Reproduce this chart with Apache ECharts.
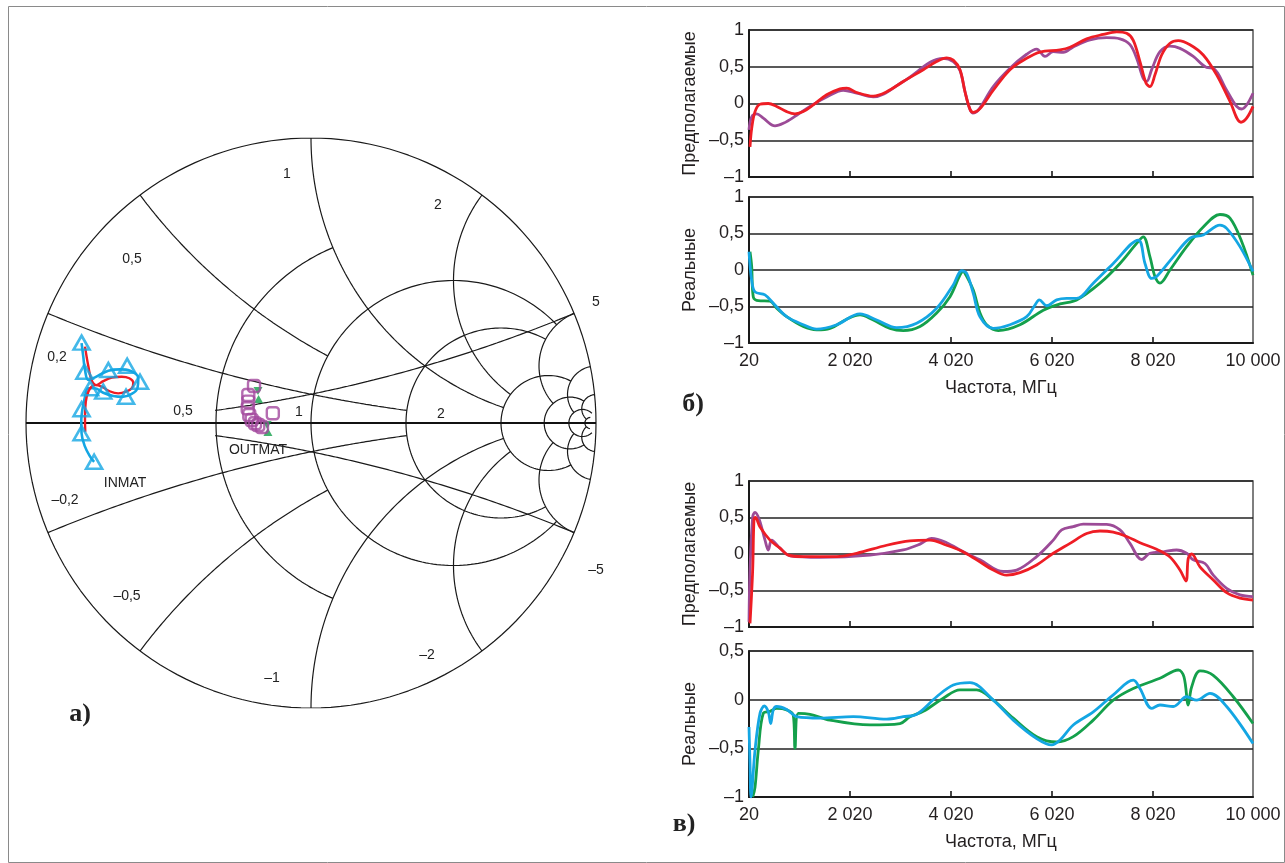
<!DOCTYPE html>
<html><head><meta charset="utf-8">
<script src="https://cdn.jsdelivr.net/npm/echarts@6/dist/echarts.min.js"></script>
<style>html,body{margin:0;padding:0;background:#fff}#c{width:1285px;height:863px}</style>
</head><body><div id="c"></div>
<script>
// ---------- DATA ----------
const freqTicks = [20, 2020, 4020, 6020, 8020, 10000];
const freqMinor = [2020, 4020, 6020, 8020];

// б) predicted (top)
const predB_purple = [[20,-0.36],[73,-0.18],[172,-0.14],[303,-0.20],[535,-0.305],[699,-0.27],[964,-0.16],[1228,-0.04],[1558,0.09],[1887,0.18],[2152,0.14],[2481,0.09],[3075,0.30],[3867,0.615],[4065,0.57],[4198,0.45],[4297,0.16],[4380,-0.05],[4449,-0.13],[4560,-0.09],[4857,0.23],[5188,0.48],[5518,0.67],[5716,0.74],[5881,0.64],[6045,0.705],[6243,0.695],[6441,0.77],[6772,0.865],[7102,0.895],[7366,0.88],[7564,0.80],[7696,0.615],[7827,0.34],[7894,0.30],[7993,0.46],[8158,0.705],[8356,0.78],[8554,0.75],[8817,0.64],[9082,0.49],[9213,0.48],[9478,0.18],[9676,-0.04],[9775,-0.075],[9874,-0.02],[10000,0.14]];
const predB_red = [[40,-0.59],[73,-0.34],[139,-0.11],[238,-0.01],[402,0.0],[568,-0.04],[766,-0.11],[931,-0.14],[1095,-0.11],[1293,-0.02],[1558,0.12],[1822,0.20],[1954,0.21],[2152,0.15],[2481,0.10],[2746,0.16],[3075,0.30],[3471,0.46],[3736,0.57],[3934,0.62],[4065,0.59],[4198,0.46],[4297,0.16],[4396,-0.08],[4461,-0.12],[4594,-0.07],[4857,0.18],[5188,0.46],[5518,0.615],[5782,0.70],[6178,0.73],[6376,0.765],[6706,0.88],[7035,0.94],[7300,0.975],[7498,0.955],[7629,0.86],[7762,0.57],[7881,0.28],[7960,0.23],[8059,0.39],[8191,0.66],[8356,0.82],[8520,0.855],[8752,0.80],[9015,0.66],[9280,0.39],[9544,0.03],[9762,-0.255],[9874,-0.20],[10000,-0.04]];
// б) real (bottom)
const realB_green = [[40,0.25],[73,0.05],[105,-0.37],[204,-0.42],[436,-0.425],[568,-0.525],[766,-0.64],[1095,-0.775],[1360,-0.82],[1624,-0.80],[1954,-0.675],[2218,-0.615],[2481,-0.685],[2812,-0.80],[3075,-0.83],[3406,-0.775],[3736,-0.59],[4000,-0.365],[4198,-0.07],[4263,-0.02],[4297,-0.045],[4461,-0.275],[4594,-0.59],[4726,-0.75],[4956,-0.83],[5386,-0.75],[5847,-0.55],[6178,-0.465],[6508,-0.41],[6970,-0.18],[7366,0.09],[7696,0.365],[7827,0.455],[7960,0.18],[8059,-0.09],[8158,-0.18],[8356,0.0],[8686,0.32],[9015,0.59],[9346,0.76],[9544,0.71],[9775,0.39],[10000,-0.07]];
const realB_blue = [[20,0.25],[73,-0.14],[139,-0.30],[337,-0.34],[501,-0.455],[766,-0.64],[1095,-0.75],[1360,-0.81],[1756,-0.75],[2218,-0.60],[2548,-0.685],[2944,-0.79],[3340,-0.73],[3736,-0.525],[4065,-0.205],[4231,-0.01],[4330,-0.045],[4461,-0.32],[4594,-0.64],[4857,-0.80],[5188,-0.75],[5518,-0.64],[5683,-0.48],[5768,-0.41],[5914,-0.49],[6112,-0.41],[6310,-0.39],[6508,-0.39],[6837,-0.18],[7233,0.09],[7728,0.41],[7861,0.09],[7993,-0.115],[8092,-0.09],[8421,0.18],[8752,0.435],[9015,0.48],[9346,0.615],[9478,0.57],[9742,0.32],[10000,-0.02]];
// в) predicted (top)
const predV_purple = [[20,-0.93],[40,-0.22],[93,0.51],[139,0.57],[224,0.47],[337,0.19],[402,0.055],[469,0.19],[634,0.08],[832,-0.025],[1426,-0.045],[2416,-0.015],[3075,0.055],[3406,0.135],[3637,0.215],[3934,0.155],[4263,0.03],[4594,-0.08],[5055,-0.24],[5320,-0.22],[5716,-0.035],[6045,0.19],[6211,0.33],[6441,0.375],[6639,0.41],[7102,0.405],[7366,0.33],[7564,0.145],[7795,-0.075],[7960,0.01],[8223,0.03],[8488,0.055],[8686,0.01],[8817,-0.08],[9049,-0.13],[9213,-0.29],[9478,-0.47],[9742,-0.56],[10000,-0.585]];
const predV_red = [[40,-0.95],[93,-0.22],[119,0.47],[145,0.50],[238,0.37],[436,0.19],[634,0.08],[798,-0.015],[1095,-0.035],[1756,-0.035],[2152,0.01],[2746,0.12],[3208,0.18],[3604,0.19],[3934,0.12],[4198,0.05],[4528,-0.08],[4857,-0.22],[5122,-0.29],[5386,-0.255],[5716,-0.15],[6045,0.01],[6376,0.145],[6706,0.28],[6970,0.315],[7233,0.30],[7498,0.24],[7762,0.155],[8092,0.065],[8356,-0.04],[8554,-0.22],[8673,-0.37],[8718,-0.06],[8785,0.0],[8950,-0.175],[9213,-0.355],[9478,-0.53],[9742,-0.605],[10000,-0.63]];
// в) real (bottom)
const realV_green = [[93,-1.0],[139,-0.90],[204,-0.52],[303,-0.14],[436,-0.12],[568,-0.09],[766,-0.105],[897,-0.16],[931,-0.50],[996,-0.14],[1228,-0.15],[1624,-0.21],[2416,-0.26],[3010,-0.245],[3208,-0.175],[3471,-0.12],[3867,0.015],[4198,0.10],[4528,0.10],[4857,-0.005],[5253,-0.19],[5716,-0.38],[6112,-0.435],[6441,-0.38],[6837,-0.21],[7233,-0.005],[7629,0.115],[8158,0.22],[8520,0.305],[8633,0.235],[8718,-0.055],[8785,0.13],[8950,0.295],[9213,0.25],[9609,0.03],[10000,-0.245]];
const realV_blue = [[20,-0.28],[40,-0.655],[60,-1.0],[139,-0.52],[238,-0.14],[323,-0.065],[402,-0.125],[450,-0.245],[501,-0.105],[568,-0.07],[766,-0.10],[964,-0.175],[1426,-0.19],[2085,-0.175],[2746,-0.20],[3075,-0.175],[3340,-0.15],[3736,0.03],[4065,0.15],[4396,0.175],[4857,-0.005],[5253,-0.21],[5716,-0.40],[6013,-0.465],[6178,-0.415],[6441,-0.26],[6837,-0.125],[7233,0.05],[7629,0.20],[7762,0.115],[7993,-0.09],[8158,-0.055],[8421,-0.07],[8686,0.03],[8884,-0.005],[9148,0.065],[9478,-0.07],[10000,-0.45]];

// а) Smith chart traces (reflection coefficient, [Re, Im])
const inmatBlue = [[-0.805,0.280],[-0.799,0.233],[-0.793,0.186],[-0.781,0.151],[-0.758,0.160],[-0.711,0.1835],[-0.670,0.188],[-0.635,0.1835],[-0.606,0.157],[-0.609,0.122],[-0.629,0.102],[-0.659,0.092],[-0.694,0.095],[-0.729,0.106],[-0.758,0.122],[-0.781,0.122],[-0.793,0.092],[-0.802,0.048],[-0.806,0.0105],[-0.805,-0.036],[-0.793,-0.083],[-0.775,-0.118],[-0.761,-0.136]];
const inmatRed = [[-0.793,0.268],[-0.781,0.198],[-0.770,0.151],[-0.754,0.133],[-0.729,0.147],[-0.699,0.159],[-0.664,0.1625],[-0.6375,0.157],[-0.6235,0.1415],[-0.629,0.122],[-0.649,0.110],[-0.676,0.104],[-0.708,0.112],[-0.734,0.1275],[-0.758,0.133],[-0.775,0.122],[-0.787,0.092],[-0.792,0.0515],[-0.793,0.0105],[-0.792,-0.0305]];
const inmatMarks = [[-0.805,0.282],[-0.795,0.180],[-0.711,0.186],[-0.645,0.201],[-0.600,0.145],[-0.649,0.092],[-0.729,0.110],[-0.775,0.122],[-0.805,0.048],[-0.805,-0.036],[-0.761,-0.136]];
const outmatSquares = [[-0.200,0.130],[-0.220,0.098],[-0.220,0.075],[-0.222,0.052],[-0.2165,0.028],[-0.208,0.0105],[-0.1965,-0.001],[-0.185,-0.007],[-0.172,-0.014],[-0.134,0.034]];
const outmatGreen = [[-0.186,0.112],[-0.184,0.084],[-0.154,-0.007],[-0.151,-0.032]];

// Smith grid definition: [value, clip limit]
const rCircles = [[0.5,1],[1,5],[2,5],[5,10],[10,20],[20,50],[50,50]];
const xArcs = [[0.2,2],[0.5,1],[1,5],[2,5],[5,10],[10,20],[20,50]];

// ---------- BUILD ----------
const FF = '"Liberation Sans", Arial, sans-serif';
const TXT = '#231f20';
function gam(r,x){const d=(r+1)*(r+1)+x*x;return [(r*r-1+x*x)/d, 2*x/d];}
function rCircle(r,xlim){const c=r/(1+r),rho=1/(1+r);let a0=0;if(isFinite(xlim)){const g=gam(r,xlim);a0=Math.atan2(g[1],g[0]-c);}
  const p=[],N=180;for(let i=0;i<=N;i++){const a=a0+(2*Math.PI-2*a0)*i/N;p.push([c+rho*Math.cos(a),rho*Math.sin(a)]);}return p;}
function xArc(x,rlim){const cx=1,cy=1/x,rho=1/Math.abs(x);const g0=gam(0,x),g1=isFinite(rlim)?gam(rlim,x):[1,0];
  let a0=Math.atan2(g0[1]-cy,g0[0]-cx);const a1=Math.atan2(g1[1]-cy,g1[0]-cx);
  while(a1-a0>Math.PI)a0+=2*Math.PI;while(a1-a0<-Math.PI)a0-=2*Math.PI;
  const p=[],N=180;
  for(let i=0;i<=N;i++){const a=a0+(a1-a0)*i/N;p.push([cx+rho*Math.cos(a),cy+rho*Math.sin(a)]);}return p;}

const gridArcs=[];
gridArcs.push(rCircle(0,Infinity));
rCircles.forEach(([r,l])=>gridArcs.push(rCircle(r,l)));
xArcs.forEach(([x,l])=>{gridArcs.push(xArc(x,l));gridArcs.push(xArc(-x,l));});
gridArcs.push(xArc(0.2,2).map(([u,v])=>[-u,v]));
gridArcs.push(xArc(-0.2,2).map(([u,v])=>[-u,v]));

const series=[];
gridArcs.forEach(d=>series.push({type:'line',xAxisIndex:0,yAxisIndex:0,data:d,showSymbol:false,silent:true,z:1,
  lineStyle:{color:'#1a1a1a',width:1.2}}));
series.push({type:'line',xAxisIndex:0,yAxisIndex:0,data:[[-1,0],[1,0]],showSymbol:false,silent:true,z:1,lineStyle:{color:'#111',width:2.2}});

const BLUE='#14a6e3', RED='#ee1d25', PURP='#9c4b97', GREEN='#14a04b', MAG='#a3489d';
series.push({type:'line',xAxisIndex:0,yAxisIndex:0,data:inmatBlue,smooth:0.4,showSymbol:false,z:3,lineStyle:{color:BLUE,width:2.6}});
series.push({type:'line',xAxisIndex:0,yAxisIndex:0,data:inmatRed,smooth:0.4,showSymbol:false,z:4,lineStyle:{color:RED,width:2.4}});
series.push({type:'scatter',xAxisIndex:0,yAxisIndex:0,data:inmatMarks,symbol:'triangle',symbolSize:[16,14],z:5,
  itemStyle:{color:'rgba(255,255,255,0)',borderColor:BLUE,borderWidth:2.6}});
series.push({type:'scatter',xAxisIndex:0,yAxisIndex:0,z:4,symbol:'triangle',symbolSize:[9,8],
  data:outmatGreen.map((p,i)=>({value:p,symbolRotate:(i%2===0)?180:0})),itemStyle:{color:GREEN}});
series.push({type:'scatter',xAxisIndex:0,yAxisIndex:0,data:outmatSquares,symbol:'roundRect',symbolSize:12,z:5,
  itemStyle:{color:'rgba(255,255,255,0)',borderColor:MAG,borderWidth:2.4}});

function lineS(gi,data,color){return {type:'line',xAxisIndex:gi,yAxisIndex:gi,data,smooth:0.35,showSymbol:false,
  lineStyle:{color,width:2.8},z:3};}
series.push(lineS(1,predB_purple,PURP), lineS(1,predB_red,RED));
series.push(lineS(2,realB_green,GREEN), lineS(2,realB_blue,BLUE));
series.push(lineS(3,predV_purple,PURP), lineS(3,predV_red,RED));
series.push(lineS(4,realV_green,GREEN), lineS(4,realV_blue,BLUE));

const fmtF=v=>String(v).replace(/\B(?=(\d{3})+(?!\d))/g,' ');
const fmtY=v=>(Math.abs(v)<1e-9?'0':String(v).replace('.',',').replace('-','\u2013'));

const plotGrids=[{top:30,height:147},{top:197,height:146},{top:481,height:146},{top:651,height:146}];
const grids=[{left:26,top:138,width:570,height:570,show:false}];
plotGrids.forEach(g=>grids.push({left:749,width:504,top:g.top,height:g.height,show:true,borderColor:'#555',borderWidth:1.5}));

const xAxes=[{type:'value',gridIndex:0,min:-1,max:1,show:false}];
const yAxes=[{type:'value',gridIndex:0,min:-1,max:1,show:false}];
const yNames=['Предполагаемые','Реальные','Предполагаемые','Реальные'];
const yMins=[-1,-1,-1,-1], yMaxs=[1,1,1,0.5];
for(let i=0;i<4;i++){
  const showLab=(i===1||i===3);
  xAxes.push({type:'value',gridIndex:i+1,min:20,max:10000,
    axisLine:{show:true,onZero:false,lineStyle:{color:'#1a1a1a',width:2}},
    axisTick:{show:true,inside:true,length:6,customValues:freqMinor,lineStyle:{color:'#1a1a1a',width:1.6}},
    axisLabel:{show:showLab,customValues:freqTicks,formatter:fmtF,fontSize:18,color:TXT,margin:9,fontFamily:FF},
    splitLine:{show:false},
    name:showLab?'Частота, МГц':'',nameLocation:'middle',nameGap:36,
    nameTextStyle:{fontSize:18,color:TXT,fontFamily:FF}});
  yAxes.push({type:'value',gridIndex:i+1,min:yMins[i],max:yMaxs[i],interval:0.5,
    axisLine:{show:true,onZero:false,lineStyle:{color:'#1a1a1a',width:2}},
    axisTick:{show:false},
    axisLabel:{formatter:fmtY,fontSize:18,color:TXT,margin:5,fontFamily:FF},
    splitLine:{show:true,lineStyle:{color:'#222',width:1.5}},
    name:yNames[i],nameLocation:'middle',nameRotate:90,nameGap:50,
    nameTextStyle:{fontSize:18,color:TXT,fontFamily:FF}});
}

function t(text,x,y,size,bold,serif){return {type:'text',x,y,z:10,style:{text,x:0,y:0,fill:'#222',
  font:(bold?'bold ':'')+size+'px '+(serif?'"Liberation Serif", "DejaVu Serif", serif':FF),
  align:'center',verticalAlign:'middle',textAlign:'center',textVerticalAlign:'middle'}};}
const graphic=[
  {type:'rect',shape:{x:8.5,y:6.5,width:1276,height:856},style:{fill:null,stroke:'#8a8a8a',lineWidth:1},z:0},
  t('1',287,174,14),t('2',438,205,14),t('0,5',132,259,14),t('5',596,302,14),t('0,2',57,357,14),
  t('0,5',183,411,14),t('1',299,412,14),t('2',441,414,14),
  t('–0,2',65,500,14),t('–0,5',127,596,14),t('–1',272,678,14),t('–2',427,655,14),t('–5',596,570,14),
  t('INMAT',125,483,14),t('OUTMAT',258,450,14),
  t('а)',80,714,26,true,true),t('б)',693,404,26,true,true),t('в)',684,824,26,true,true)
];

const chart=echarts.init(document.getElementById('c'),null,{renderer:'canvas'});
chart.setOption({animation:false,backgroundColor:'#fff',grid:grids,xAxis:xAxes,yAxis:yAxes,series,graphic});
</script></body></html>
